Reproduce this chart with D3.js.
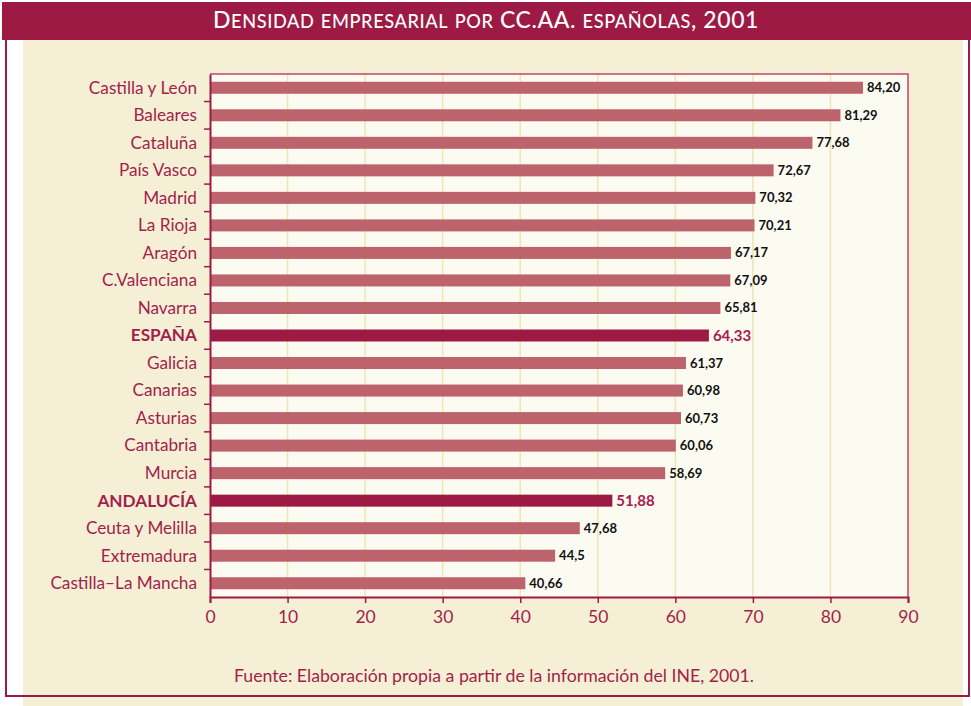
<!DOCTYPE html>
<html><head><meta charset="utf-8">
<script src="https://cdn.jsdelivr.net/npm/d3@7"></script>
<style>
html,body{margin:0;padding:0;background:#fff;}
svg{display:block;}
text{font-family:Lato,"Open Sans",sans-serif;}
</style></head>
<body><svg id="c" width="971" height="706"></svg>
<script>
const categories = ["Castilla y León","Baleares","Cataluña","País Vasco","Madrid","La Rioja","Aragón","C.Valenciana","Navarra","ESPAÑA","Galicia","Canarias","Asturias","Cantabria","Murcia","ANDALUCÍA","Ceuta y Melilla","Extremadura","Castilla–La Mancha"];
const values = [84.20,81.29,77.68,72.67,70.32,70.21,67.17,67.09,65.81,64.33,61.37,60.98,60.73,60.06,58.69,51.88,47.68,44.5,40.66];
const valueLabels = ["84,20","81,29","77,68","72,67","70,32","70,21","67,17","67,09","65,81","64,33","61,37","60,98","60,73","60,06","58,69","51,88","47,68","44,5","40,66"];
const highlighted = ["ESPAÑA","ANDALUCÍA"];
const xTicks = [0,10,20,30,40,50,60,70,80,90];
const title = "Densidad empresarial por CC.AA. españolas, 2001";
const source = "Fuente: Elaboración propia a partir de la información del INE, 2001.";

const crimson = "#9d1a44", labelCol = "#a21f4c", barCol = "#bd636b";
const svg = d3.select("#c");

// background panels
svg.append("rect").attr("x",23).attr("y",40).attr("width",940).attr("height",666).attr("fill","#f5f0d5");
svg.append("path").attr("d","M6,40 V696 H969 V40").attr("fill","none").attr("stroke",crimson).attr("stroke-width",2);
svg.append("rect").attr("x",2).attr("y",2).attr("width",969).attr("height",38).attr("fill",crimson);

// title with manual small caps
const tt = svg.append("text").attr("x",486).attr("y",27.5).attr("text-anchor","middle").attr("fill","#fff")
  .attr("font-weight",500).attr("letter-spacing",0.6);
const runs = [];
for (const ch of title) {
  const small = ch !== ch.toUpperCase();
  const last = runs[runs.length-1];
  if (last && last.small === small) last.t += ch; else runs.push({small, t: ch});
}
tt.selectAll("tspan").data(runs).join("tspan")
  .attr("font-size",d=>d.small?18.2:23).text(d=>d.t.toUpperCase());

const m = {l:210, r:908, t:74, b:597};
const x = d3.scaleLinear().domain([0,90]).range([m.l,m.r]);
const yb = d3.scaleBand().domain(categories).range([m.t,m.b]);

svg.append("rect").attr("x",m.l).attr("y",m.t).attr("width",m.r-m.l).attr("height",m.b-m.t).attr("fill","#fcfbf2");
svg.append("g").selectAll("line").data(xTicks.slice(1,-1)).join("line")
  .attr("x1",d=>x(d)).attr("x2",d=>x(d)).attr("y1",m.t).attr("y2",m.b).attr("stroke","#eee5b4").attr("stroke-width",1.5);
svg.append("path").attr("d",`M${m.l},${m.t} H${m.r} V${m.b}`).attr("fill","none").attr("stroke","#c1456a").attr("stroke-width",1.5);

// bars
svg.append("g").selectAll("rect").data(categories).join("rect")
  .attr("x",m.l).attr("y",(d)=>yb(d)+yb.bandwidth()/2-6).attr("height",12)
  .attr("width",(d,i)=>x(values[i])-m.l)
  .attr("fill",d=>highlighted.includes(d)?crimson:barCol);

svg.append("g").selectAll("text").data(categories).join("text")
  .attr("x",(d,i)=>x(values[i])+4).attr("y",d=>yb(d)+yb.bandwidth()/2+ (highlighted.includes(d)?5.5:4.5))
  .attr("font-weight",700).attr("font-size",d=>highlighted.includes(d)?15:13)
  .attr("fill",d=>highlighted.includes(d)?"#a8204e":"#111")
  .text((d,i)=>valueLabels[i]);

// axes
const ya = d3.axisLeft(yb).tickSize(0).tickPadding(13);
const gy = svg.append("g").attr("transform",`translate(${m.l},0)`).call(ya);
gy.select(".domain").attr("stroke",crimson).attr("stroke-width",2);
gy.selectAll("text").attr("fill",labelCol).attr("font-size",17.2).attr("dy","0.34em")
  .attr("font-weight",d=>highlighted.includes(d)?700:400);
gy.selectAll("line.bt").data(categories.slice(1)).join("line").attr("class","bt")
  .attr("x1",-6).attr("x2",0).attr("y1",d=>yb(d)).attr("y2",d=>yb(d)).attr("stroke",crimson).attr("stroke-width",1.5);

const xa = d3.axisBottom(x).tickValues(xTicks).tickSize(6).tickPadding(8).tickFormat(d3.format("d"));
const gx = svg.append("g").attr("transform",`translate(0,${m.b})`).call(xa);
gx.select(".domain").attr("stroke",crimson).attr("stroke-width",2);
gx.selectAll("line").attr("stroke",crimson).attr("stroke-width",1.5);
gx.selectAll("text").attr("fill",labelCol).attr("font-size",17.5).attr("font-family","Lato,sans-serif");

svg.append("text").attr("x",494).attr("y",682).attr("text-anchor","middle").attr("fill",labelCol)
  .attr("font-size",17.7).text(source);
</script></body></html>
